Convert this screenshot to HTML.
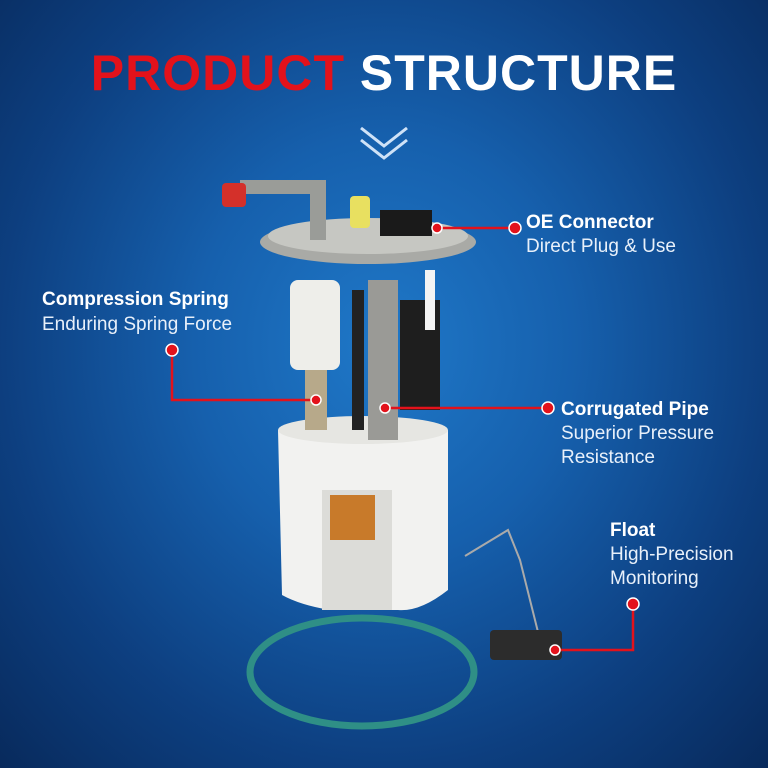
<!DOCTYPE html>
<html><head><meta charset="utf-8"><style>
html,body{margin:0;padding:0}
body{width:768px;height:768px;overflow:hidden;position:relative;font-family:"Liberation Sans",sans-serif;
background:radial-gradient(ellipse at 50% 45%,#1f78c8 0%,#1660ad 35%,#0d3f80 70%,#082a5c 100%);}
.t{position:absolute;color:#fff;white-space:nowrap}
.b{font-weight:bold;font-size:19px}
.n{font-size:19px;color:#e8f0fa}
</style></head><body>
<div class="t" style="left:0;width:768px;text-align:center;top:44px;font-size:50px;font-weight:900;letter-spacing:1px"><span style="color:#e3121b">PRODUCT</span> STRUCTURE</div>
<svg width="768" height="768" style="position:absolute;left:0;top:0">
<polyline points="361,128 384,146 407,128" fill="none" stroke="#cfe2f7" stroke-width="3"/>
<polyline points="361,140 384,158 407,140" fill="none" stroke="#cfe2f7" stroke-width="3"/>
<!-- ring -->
<ellipse cx="362" cy="672" rx="112" ry="54" fill="none" stroke="#2f8f86" stroke-width="7"/>
<!-- body -->
<path d="M278,430 Q362,410 448,430 L448,590 Q420,612 398,610 L330,610 Q300,605 282,595 Z" fill="#f2f2f0"/>
<ellipse cx="363" cy="430" rx="85" ry="14" fill="#e6e6e2"/>
<rect x="322" y="490" width="70" height="120" fill="#dcdcd8"/>
<rect x="330" y="495" width="45" height="45" fill="#c87a2a"/>
<!-- flange and internals -->
<rect x="290" y="280" width="50" height="90" rx="8" fill="#eeeeea"/>
<rect x="305" y="370" width="22" height="60" fill="#b7a98a"/>
<rect x="368" y="280" width="30" height="160" fill="#9a9a96"/>
<rect x="352" y="290" width="12" height="140" fill="#222"/>
<rect x="400" y="300" width="40" height="110" fill="#1e1e1e"/>
<rect x="425" y="270" width="10" height="60" fill="#f4f4f4"/>
<ellipse cx="368" cy="242" rx="108" ry="22" fill="#a9aaa6"/>
<ellipse cx="368" cy="236" rx="100" ry="18" fill="#c6c7c2"/>
<rect x="310" y="180" width="16" height="60" fill="#9a9c98"/>
<rect x="240" y="180" width="80" height="14" fill="#9a9c98"/>
<rect x="222" y="183" width="24" height="24" rx="4" fill="#d4302a"/>
<rect x="350" y="196" width="20" height="32" rx="4" fill="#e8e060"/>
<rect x="380" y="210" width="52" height="26" fill="#1a1a1a"/>
<!-- float -->
<polyline points="465,556 508,530 520,560 540,640" fill="none" stroke="#aaa" stroke-width="2"/>
<rect x="490" y="630" width="72" height="30" rx="4" fill="#2c2c2c"/>
<!-- red leaders -->
<g stroke="#e3121b" stroke-width="2.5" fill="none">
<line x1="437" y1="228" x2="515" y2="228"/>
<polyline points="172,350 172,400 316,400"/>
<line x1="385" y1="408" x2="548" y2="408"/>
<polyline points="633,604 633,650 555,650"/>
</g>
<g fill="#e3121b" stroke="#fff" stroke-width="1.5">
<circle cx="437" cy="228" r="5"/><circle cx="515" cy="228" r="6"/>
<circle cx="172" cy="350" r="6"/><circle cx="316" cy="400" r="5"/>
<circle cx="385" cy="408" r="5"/><circle cx="548" cy="408" r="6"/>
<circle cx="633" cy="604" r="6"/><circle cx="555" cy="650" r="5"/>
</g>
</svg>
<div class="t b" style="left:526px;top:212px">OE Connector</div>
<div class="t n" style="left:526px;top:236px">Direct Plug &amp; Use</div>
<div class="t b" style="left:42px;top:289px">Compression Spring</div>
<div class="t n" style="left:42px;top:314px">Enduring Spring Force</div>
<div class="t b" style="left:561px;top:399px">Corrugated Pipe</div>
<div class="t n" style="left:561px;top:423px">Superior Pressure</div>
<div class="t n" style="left:561px;top:447px">Resistance</div>
<div class="t b" style="left:610px;top:520px">Float</div>
<div class="t n" style="left:610px;top:544px">High-Precision</div>
<div class="t n" style="left:610px;top:568px">Monitoring</div>
</body></html>
